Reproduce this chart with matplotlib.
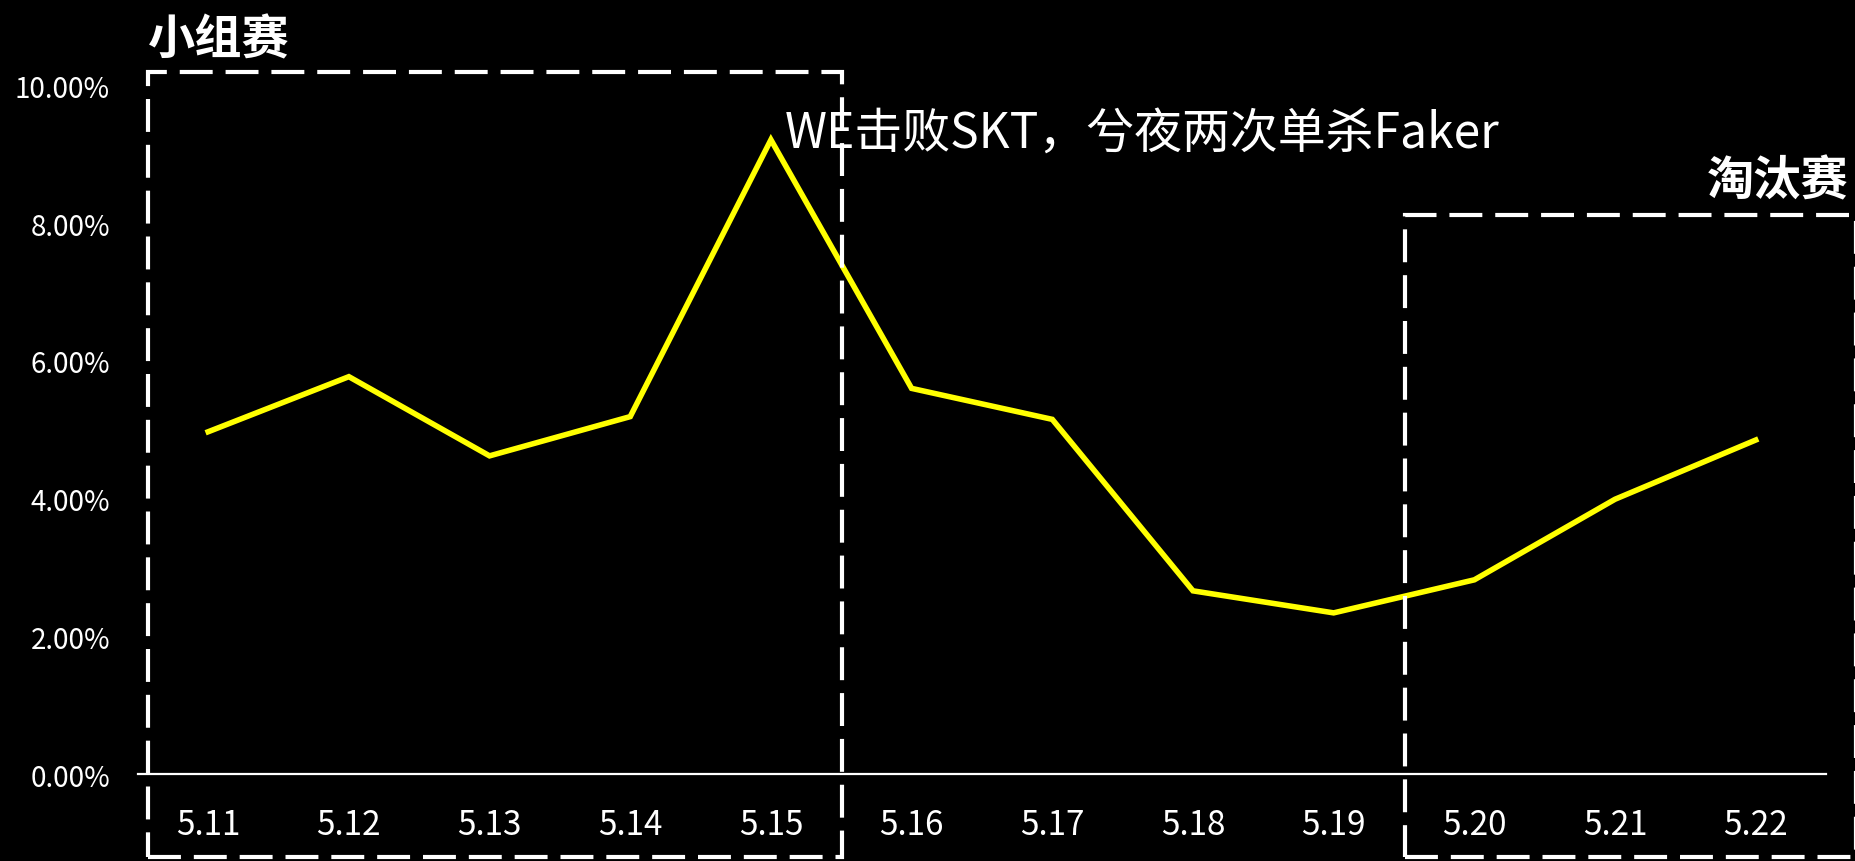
import matplotlib.pyplot as plt
from matplotlib.patches import Rectangle
from matplotlib.ticker import FuncFormatter

plt.rcParams['font.family'] = ['Noto Sans CJK SC', 'DejaVu Sans']

# data
dates = ['5.11', '5.12', '5.13', '5.14', '5.15', '5.16',
         '5.17', '5.18', '5.19', '5.20', '5.21', '5.22']
share = [0.0497, 0.0577, 0.0462, 0.0519, 0.0921, 0.0560,
         0.0515, 0.0266, 0.0234, 0.0282, 0.0399, 0.0485]
yticks = [0.0, 0.02, 0.04, 0.06, 0.08, 0.10]

group_label = '小组赛'
knockout_label = '淘汰赛'
note = 'WE击败SKT，兮夜两次单杀Faker'

fig = plt.figure(figsize=(18.55, 8.62), dpi=100, facecolor='black')
ax = fig.add_axes([0.0743, 0.1009, 0.9101, 0.7989])
ax.set_facecolor('black')

x = list(range(len(dates)))
ax.plot(x, share, color='#FFFF00', linewidth=4, solid_joinstyle='miter')

ax.set_xlim(-0.5, len(dates) - 0.5)
ax.set_ylim(0, 0.10)
ax.set_xticks(x)
ax.set_xticklabels(dates)
ax.set_yticks(yticks)
ax.yaxis.set_major_formatter(FuncFormatter(lambda v, p: f'{v * 100:.2f}%'))
ax.tick_params(axis='both', length=0, colors='white')
ax.tick_params(axis='x', pad=24, labelsize=24)
ax.tick_params(axis='y', pad=20, labelsize=20)

for s in ['top', 'right', 'left']:
    ax.spines[s].set_visible(False)
ax.spines['bottom'].set_color('white')
ax.spines['bottom'].set_linewidth(1.6)
ax.spines['bottom'].set_zorder(5)

# dashed boxes marking the two stages
box_style = dict(fill=False, edgecolor='white', linewidth=3,
                 linestyle=(0, (7.9, 3.1)), clip_on=False, zorder=4)
ax.add_patch(Rectangle((-0.43, -0.0121), 4.935, 0.1141, **box_style))
ax.add_patch(Rectangle((8.51, -0.0121), 3.2, 0.0933, **box_style))

ax.text(-0.43, 0.1067, group_label, color='white', fontsize=34,
        fontweight='bold', ha='left', va='center', clip_on=False)
ax.text(11.66, 0.0862, knockout_label, color='white', fontsize=34,
        fontweight='bold', ha='right', va='center', clip_on=False)
ax.text(4.1, 0.0929, note, color='white', fontsize=34.5,
        ha='left', va='center', clip_on=False)

fig.savefig('out.png', dpi=100, facecolor='black')
